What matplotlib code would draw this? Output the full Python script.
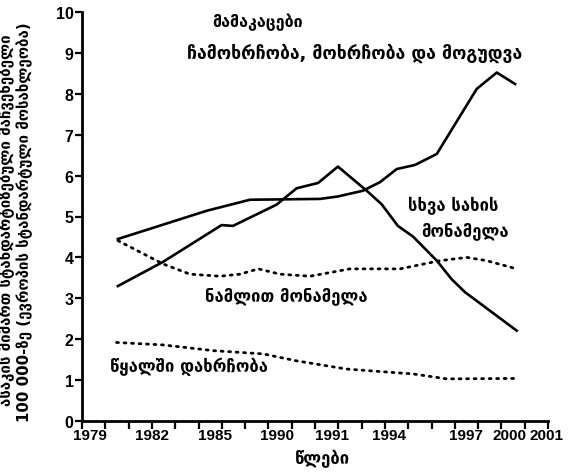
import matplotlib
matplotlib.use("Agg")
import matplotlib.pyplot as plt
import numpy as np

# ---- data ----
hanging_years = [1980.0, 1984.47, 1986.65, 1990.18, 1991.08, 1992.34, 1993.2, 1994.04,
                 1994.96, 1996.06, 1998.07, 1999.08, 2000.0]
hanging_vals = [4.45, 5.14, 5.41, 5.43, 5.49, 5.63, 5.84, 6.16, 6.26, 6.53, 8.12, 8.52, 8.24]

other_years = [1980.0, 1982.27, 1985.22, 1985.79, 1987.99, 1989.0, 1990.08, 1991.08,
               1992.53, 1993.28, 1994.1, 1994.86, 1996.06, 1996.8, 1997.48, 2000.08]
other_vals = [3.30, 3.89, 4.79, 4.77, 5.29, 5.69, 5.82, 6.22, 5.63, 5.30, 4.77, 4.51,
              3.92, 3.47, 3.15, 2.21]

drug_years = [1980.0, 1982.27, 1983.63, 1985.14, 1986.15, 1987.07, 1988.16, 1989.67,
              1991.69, 1994.21, 1996.22, 1997.57, 1998.57, 2000.08]
drug_vals = [4.41, 3.84, 3.59, 3.54, 3.59, 3.72, 3.59, 3.54, 3.72, 3.72, 3.92, 4.0, 3.92, 3.72]

drown_years = [1979.93, 1982.28, 1984.8, 1987.32, 1989.0, 1991.52, 1994.88, 1996.56, 2000.0]
drown_vals = [1.92, 1.86, 1.72, 1.64, 1.47, 1.27, 1.15, 1.03, 1.04]

xtick_labels = ["1979", "1982", "1985", "1990", "1991", "1994", "1997", "2000", "2001"]
xtick_pos = [1978.6, 1981.7, 1984.9, 1988.0, 1990.8, 1993.65, 1997.55, 1999.7, 2001.6]
yticks = list(range(0, 11))

title_text = "მამაკაცები"
label_hanging = "ჩამოხრჩობა, მოხრჩობა და მოგუდვა"
label_other_1 = "სხვა სახის"
label_other_2 = "მონამელა"
label_drug = "ნამლით მონამელა"
label_drown = "წყალში დახრჩობა"
ylabel1 = "ასაკის მიმართ სტანდარტიზებული მაჩვენებელი"
ylabel2 = "100 000-ზე (ევროპის სტანდარტული მოსახლეობა)"
xlabel = "წლები"

W, H = 569, 477
fig = plt.figure(figsize=(W / 100, H / 100), dpi=100)
ax = fig.add_axes([82 / W, 1 - 422 / H, (548 - 82) / W, (422 - 13) / H])

lw = 1.9
ax.plot(hanging_years, hanging_vals, color="black", lw=lw, solid_joinstyle="round")
ax.plot(other_years, other_vals, color="black", lw=lw, solid_joinstyle="round")
ax.plot(drug_years, drug_vals, color="black", lw=2.0, linestyle=(0, (0.7, 2.0)),
        dash_capstyle="round")
ax.plot(drown_years, drown_vals, color="black", lw=2.0, linestyle=(0, (0.7, 2.0)),
        dash_capstyle="round")

xmin, xmax = 1978.19, 2001.66
ax.set_xlim(xmin, xmax)
ax.set_ylim(0, 10)

for s in ["top", "right"]:
    ax.spines[s].set_visible(False)
for s in ["left", "bottom"]:
    ax.spines[s].set_linewidth(2)
    ax.spines[s].set_color("black")

ax.tick_params(axis="x", which="major", length=0, pad=5)
ax.tick_params(axis="x", which="minor", length=6, width=1.6, direction="out")
ax.tick_params(axis="y", which="major", length=5, width=1.6, pad=1)
ax.set_yticks(yticks)
ax.set_yticklabels([str(v) for v in yticks], fontsize=11.5,
                   fontfamily="Liberation Sans", fontweight="bold")
ax.set_xticks(xtick_pos)
ax.set_xticklabels(xtick_labels, fontsize=11,
                   fontfamily="Liberation Sans", fontweight="bold")
ax.set_xticks(np.linspace(xmin, xmax, 21), minor=True)

tf = lambda x, y: (x / W, 1 - y / H)
fig.text(*tf(258, 22), title_text, ha="center", va="center", fontsize=11.5, weight="bold")
fig.text(*tf(355, 53), label_hanging, ha="center", va="center", fontsize=12.7, weight="bold")
fig.text(*tf(453, 206), label_other_1, ha="center", va="center", fontsize=12, weight="bold")
fig.text(*tf(465, 231), label_other_2, ha="center", va="center", fontsize=12, weight="bold")
fig.text(*tf(286, 296), label_drug, ha="center", va="center", fontsize=12, weight="bold")
fig.text(*tf(189, 367), label_drown, ha="center", va="center", fontsize=12, weight="bold")
fig.text(*tf(322, 459), xlabel, ha="center", va="center", fontsize=12, weight="bold")
fig.text(*tf(7, 220), ylabel1, ha="center", va="center", rotation=90, fontsize=10.8,
         weight="bold")
fig.text(*tf(25, 222), ylabel2, ha="center", va="center", rotation=90, fontsize=10.8,
         weight="bold")

fig.savefig("out.png", dpi=100)
